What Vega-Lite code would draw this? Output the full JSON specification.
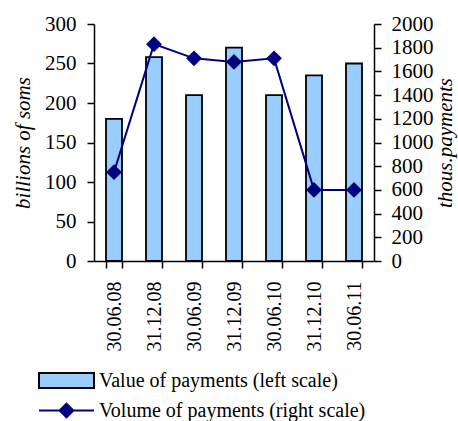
{
  "$schema": "https://vega.github.io/schema/vega-lite/v6.json",
  "autosize": "none",
  "width": 280,
  "height": 237,
  "padding": {"left": 94, "top": 24, "right": 84, "bottom": 160},
  "background": "white",
  "config": {
    "view": {"stroke": null},
    "font": "Liberation Serif, Times New Roman, serif",
    "axis": {
      "labelFont": "Liberation Serif, Times New Roman, serif",
      "titleFont": "Liberation Serif, Times New Roman, serif",
      "labelFontSize": 21,
      "titleFontSize": 21,
      "titleFontWeight": "normal",
      "labelColor": "black",
      "titleColor": "black",
      "domainColor": "black",
      "tickColor": "black",
      "domainWidth": 1.5,
      "tickWidth": 1.5,
      "grid": false
    },
    "legend": {
      "labelFont": "Liberation Serif, Times New Roman, serif",
      "labelFontSize": 20,
      "labelColor": "black",
      "labelLimit": 0,
      "padding": 0
    }
  },
  "data": {
    "values": [
      {"date": "30.06.08", "value": 180, "volume": 750},
      {"date": "31.12.08", "value": 258, "volume": 1830},
      {"date": "30.06.09", "value": 210, "volume": 1710},
      {"date": "31.12.09", "value": 270, "volume": 1680},
      {"date": "30.06.10", "value": 210, "volume": 1710},
      {"date": "31.12.10", "value": 235, "volume": 600},
      {"date": "30.06.11", "value": 250, "volume": 600}
    ]
  },
  "encoding": {
    "x": {
      "field": "date",
      "type": "nominal",
      "sort": null,
      "scale": {"paddingInner": 0.6, "paddingOuter": 0.3},
      "axis": {
        "title": null,
        "labelAngle": 270,
        "labelFontSize": 20,
        "labelPadding": 13,
        "tickBand": "extent",
        "tickSize": 7,
        "encode": {"ticks": {"y": {"value": -6}}}
      }
    }
  },
  "layer": [
    {
      "mark": {"type": "bar", "stroke": "black", "strokeWidth": 1.8},
      "encoding": {
        "y": {
          "field": "value",
          "type": "quantitative",
          "scale": {"domain": [0, 300], "nice": false},
          "axis": {
            "title": "billions of soms",
            "titleFontStyle": "italic",
            "titlePadding": 11,
            "format": "d",
            "values": [0, 50, 100, 150, 200, 250, 300],
            "tickSize": 7,
            "labelPadding": 11,
            "encode": {"ticks": {"x": {"value": 6}}}
          }
        },
        "fill": {
          "datum": "Value of payments (left scale)",
          "scale": {"range": ["#99ccff"]},
          "legend": {
            "title": null,
            "orient": "none",
            "legendX": -56,
            "legendY": 328,
            "symbolType": "M-1,-0.27H1V0.27H-1Z",
            "symbolSize": 3025,
            "symbolFillColor": "#99ccff",
            "symbolStrokeColor": "black",
            "symbolStrokeWidth": 2,
            "labelOffset": 4
          }
        }
      }
    },
    {
      "mark": {
        "type": "line",
        "color": "#000080",
        "strokeWidth": 2,
        "point": {"shape": "diamond", "size": 170, "filled": true, "color": "#000080"}
      },
      "encoding": {
        "y": {
          "field": "volume",
          "type": "quantitative",
          "scale": {"domain": [0, 2000], "nice": false},
          "axis": {
            "orient": "right",
            "title": "thous.payments",
            "titleFontStyle": "italic",
            "titleAngle": 270,
            "titlePadding": 22,
            "format": "d",
            "values": [0, 200, 400, 600, 800, 1000, 1200, 1400, 1600, 1800, 2000],
            "tickSize": 7,
            "labelPadding": 10,
            "encode": {"ticks": {"x": {"value": -6}}}
          }
        },
        "stroke": {
          "datum": "Volume of payments (right scale)",
          "scale": {"range": ["#000080"]},
          "legend": {
            "title": null,
            "orient": "none",
            "legendX": -56,
            "legendY": 358,
            "symbolType": "M-1,0H1M0,-0.25L0.25,0L0,0.25L-0.25,0Z",
            "symbolSize": 3025,
            "symbolFillColor": "#000080",
            "symbolStrokeColor": "#000080",
            "symbolStrokeWidth": 2,
            "labelOffset": 4
          }
        }
      }
    }
  ],
  "resolve": {"scale": {"y": "independent"}}
}
